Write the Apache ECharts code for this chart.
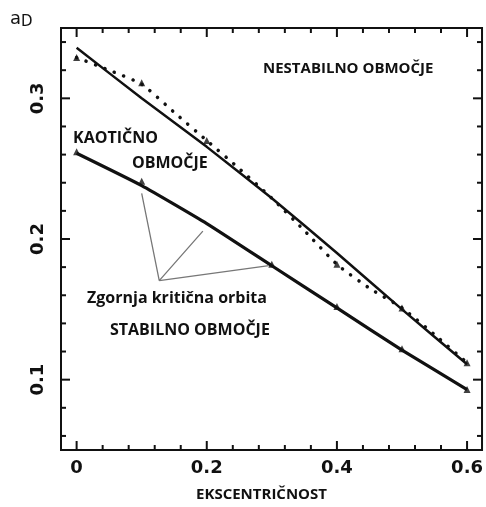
<!DOCTYPE html>
<html>
<head>
<meta charset="utf-8">
<script src="https://cdn.jsdelivr.net/npm/echarts@6/dist/echarts.min.js"></script>
<style>
  html, body { margin: 0; padding: 0; background: #fff; }
  #chart { width: 486px; height: 507px; }
</style>
</head>
<body>
<div id="chart"></div>
<script>
// ekscentričnost (x) in a_D (y), odčitano s slike
const ecc = [0, 0.1, 0.2, 0.3, 0.4, 0.5, 0.6]
const upperSolid = [0.336, 0.300, 0.2655, 0.229, 0.190, 0.150, 0.111]
const lowerSolid = [0.261, 0.238, 0.211, 0.181, 0.151, 0.121, 0.093]

const dottedX = [0, 0.05, 0.1, 0.15, 0.2, 0.25, 0.3, 0.35, 0.4, 0.45, 0.5, 0.55, 0.6]
const dottedY = [0.329, 0.320, 0.310, 0.290, 0.270, 0.250, 0.229, 0.206, 0.182, 0.165, 0.151, 0.132, 0.112]

const upperTriX = [0, 0.1, 0.2, 0.4, 0.5, 0.6]
const upperTriY = [0.329, 0.311, 0.270, 0.182, 0.151, 0.112]
const lowerTriX = [0, 0.1, 0.3, 0.4, 0.5, 0.6]
const lowerTriY = [0.262, 0.241, 0.182, 0.152, 0.122, 0.093]

// kazalne črte za "Zgornja kritična orbita"
const pointerA = [[0.100, 0.2324], [0.127, 0.1704], [0.194, 0.2056]]
const pointerB = [[0.127, 0.1704], [0.2955, 0.181]]

// oznake na oseh
const xLabels = [0, 0.2, 0.4, 0.6]
const xTicks = [0, 0.04, 0.08, 0.12, 0.16, 0.2, 0.24, 0.28, 0.32, 0.36, 0.4, 0.44, 0.48, 0.52, 0.56, 0.6]
const yLabels = [0.1, 0.2, 0.3]
const yTicks = [0.06, 0.08, 0.1, 0.12, 0.14, 0.16, 0.18, 0.2, 0.22, 0.24, 0.26, 0.28, 0.3, 0.32, 0.34]

const xMin = -0.024, xMax = 0.623
const yMin = 0.05, yMax = 0.35

const zip = (xs, ys) => xs.map((x, i) => [x, ys[i]])

const chart = echarts.init(document.getElementById('chart'))

const ink = '#111'
const labelFont = { fontFamily: 'DejaVu Sans', fontWeight: 'bold', fontSize: 18, color: ink }
const textFont = 'bold 16px "Open Sans"'

// notranje oznake osi: [vrednost, stran (0 spodaj, 1 zgoraj, 2 levo, 3 desno), dolžina]
const tickData = []
xTicks.forEach(v => {
  const len = xLabels.includes(v) ? 9 : 5
  tickData.push([v, 0, len], [v, 1, len])
})
yTicks.forEach(v => {
  const len = yLabels.includes(v) ? 9 : 5
  tickData.push([v, 2, len], [v, 3, len])
})

function renderTick(params, api) {
  const v = api.value(0), side = api.value(1), len = api.value(2)
  let p, q
  if (side === 0) { p = api.coord([v, yMin]); q = [p[0], p[1] - len] }
  else if (side === 1) { p = api.coord([v, yMax]); q = [p[0], p[1] + len] }
  else if (side === 2) { p = api.coord([xMin, v]); q = [p[0] + len, p[1]] }
  else { p = api.coord([xMax, v]); q = [p[0] - len, p[1]] }
  return {
    type: 'line',
    shape: { x1: p[0], y1: p[1], x2: q[0], y2: q[1] },
    style: { stroke: ink, lineWidth: 2 },
  }
}

function axis(kind, position, withLabel) {
  const isX = kind === 'x'
  return {
    type: 'value', position,
    min: isX ? xMin : yMin,
    max: isX ? xMax : yMax,
    axisLine: { show: false, onZero: false },
    axisTick: { show: false },
    axisLabel: withLabel
      ? { show: true, customValues: isX ? xLabels : yLabels, margin: isX ? 9 : 14, rotate: isX ? 0 : 90, ...labelFont }
      : { show: false },
    splitLine: { show: false },
  }
}

const xBottom = axis('x', 'bottom', true)
xBottom.name = 'EKSCENTRIČNOST'
xBottom.nameLocation = 'middle'
xBottom.nameGap = 37
xBottom.nameTextStyle = { fontFamily: 'Open Sans', fontWeight: 'bold', fontSize: 15, color: ink, padding: [0, 20, 0, 0] }

const option = {
  animation: false,
  backgroundColor: '#fff',
  grid: { left: 61, right: -2, top: 28, bottom: 54, show: true, borderColor: ink, borderWidth: 2, backgroundColor: 'transparent' },
  xAxis: [xBottom, axis('x', 'top', false)],
  yAxis: [axis('y', 'left', true), axis('y', 'right', false)],
  series: [
    {
      type: 'custom',
      silent: true,
      renderItem: renderTick,
      data: tickData,
    },
    {
      name: 'meja nestabilnosti',
      type: 'line',
      data: zip(ecc, upperSolid),
      smooth: 0.15,
      showSymbol: false,
      lineStyle: { color: ink, width: 2.5 },
    },
    {
      name: 'numerično',
      type: 'line',
      data: zip(dottedX, dottedY),
      smooth: 0.2,
      showSymbol: false,
      lineStyle: { color: ink, width: 3.5, type: [0.1, 10], cap: 'round' },
    },
    {
      name: 'zgornja kritična orbita',
      type: 'line',
      data: zip(ecc, lowerSolid),
      smooth: 0.15,
      showSymbol: false,
      lineStyle: { color: ink, width: 3.2 },
    },
    {
      type: 'scatter',
      data: zip(upperTriX, upperTriY),
      symbol: 'triangle',
      symbolSize: 7,
      itemStyle: { color: ink },
    },
    {
      type: 'scatter',
      data: zip(lowerTriX, lowerTriY),
      symbol: 'triangle',
      symbolSize: 7,
      itemStyle: { color: ink },
    },
    {
      type: 'line',
      data: pointerA,
      showSymbol: false,
      lineStyle: { color: '#777', width: 1.3 },
    },
    {
      type: 'line',
      data: pointerB,
      showSymbol: false,
      lineStyle: { color: '#777', width: 1.3 },
    },
  ],
  graphic: [
    {
      type: 'text', x: 10, y: 19,
      style: {
        text: '{a|a}{d|D}',
        verticalAlign: 'middle',
        rich: {
          a: { font: '18px "DejaVu Sans"', fill: ink },
          d: { font: '15px "DejaVu Sans"', fill: ink, padding: [6, 0, 0, 0] },
        },
      },
    },
    { type: 'text', x: 263, y: 69, style: { text: 'NESTABILNO OBMOČJE', font: 'bold 15px "Open Sans"', fill: ink, verticalAlign: 'middle' } },
    { type: 'text', x: 73, y: 138, style: { text: 'KAOTIČNO', font: textFont, fill: ink, verticalAlign: 'middle' } },
    { type: 'text', x: 132, y: 163, style: { text: 'OBMOČJE', font: textFont, fill: ink, verticalAlign: 'middle' } },
    { type: 'text', x: 87, y: 298, style: { text: 'Zgornja kritična orbita', font: textFont, fill: ink, verticalAlign: 'middle' } },
    { type: 'text', x: 110, y: 330, style: { text: 'STABILNO OBMOČJE', font: textFont, fill: ink, verticalAlign: 'middle' } },
  ],
}

chart.setOption(option)
</script>
</body>
</html>
